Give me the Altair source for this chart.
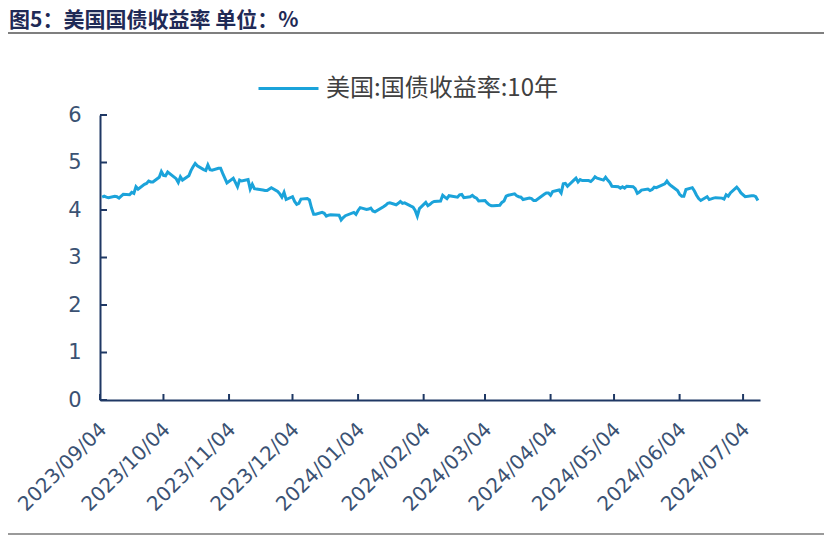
import altair as alt
import pandas as pd

TITLE = "图5：美国国债收益率  单位：%"
SERIES = "美国:国债收益率:10年"

DATES = [
    # 2023-09
    "2023-09-05", "2023-09-06", "2023-09-07", "2023-09-08", "2023-09-11", "2023-09-12",
    "2023-09-13", "2023-09-14", "2023-09-15", "2023-09-18", "2023-09-19", "2023-09-20",
    "2023-09-21", "2023-09-22", "2023-09-25", "2023-09-26", "2023-09-27", "2023-09-28",
    "2023-09-29",
    # 2023-10
    "2023-10-02", "2023-10-03", "2023-10-04", "2023-10-05", "2023-10-06", "2023-10-10",
    "2023-10-11", "2023-10-12", "2023-10-13", "2023-10-16", "2023-10-17", "2023-10-18",
    "2023-10-19", "2023-10-20", "2023-10-23", "2023-10-24", "2023-10-25", "2023-10-26",
    "2023-10-27", "2023-10-30", "2023-10-31",
    # 2023-11
    "2023-11-01", "2023-11-02", "2023-11-03", "2023-11-06", "2023-11-07", "2023-11-08",
    "2023-11-09", "2023-11-10", "2023-11-13", "2023-11-14", "2023-11-15", "2023-11-16",
    "2023-11-17", "2023-11-20", "2023-11-21", "2023-11-22", "2023-11-24", "2023-11-27",
    "2023-11-28", "2023-11-29", "2023-11-30",
    # 2023-12
    "2023-12-01", "2023-12-04", "2023-12-05", "2023-12-06", "2023-12-07", "2023-12-08",
    "2023-12-11", "2023-12-12", "2023-12-13", "2023-12-14", "2023-12-15", "2023-12-18",
    "2023-12-19", "2023-12-20", "2023-12-21", "2023-12-22", "2023-12-26", "2023-12-27",
    "2023-12-28", "2023-12-29",
    # 2024-01
    "2024-01-02", "2024-01-03", "2024-01-04", "2024-01-05", "2024-01-08", "2024-01-09",
    "2024-01-10", "2024-01-11", "2024-01-12", "2024-01-16", "2024-01-17", "2024-01-18",
    "2024-01-19", "2024-01-22", "2024-01-23", "2024-01-24", "2024-01-25", "2024-01-26",
    "2024-01-29", "2024-01-30", "2024-01-31",
    # 2024-02
    "2024-02-01", "2024-02-02", "2024-02-05", "2024-02-06", "2024-02-07", "2024-02-08",
    "2024-02-09", "2024-02-12", "2024-02-13", "2024-02-14", "2024-02-15", "2024-02-16",
    "2024-02-20", "2024-02-21", "2024-02-22", "2024-02-23", "2024-02-26", "2024-02-27",
    "2024-02-28", "2024-02-29",
    # 2024-03
    "2024-03-01", "2024-03-04", "2024-03-05", "2024-03-06", "2024-03-07", "2024-03-08",
    "2024-03-11", "2024-03-12", "2024-03-13", "2024-03-14", "2024-03-15", "2024-03-18",
    "2024-03-19", "2024-03-20", "2024-03-21", "2024-03-22", "2024-03-25", "2024-03-26",
    "2024-03-27", "2024-03-28",
    # 2024-04
    "2024-04-01", "2024-04-02", "2024-04-03", "2024-04-04", "2024-04-05", "2024-04-08",
    "2024-04-09", "2024-04-10", "2024-04-11", "2024-04-12", "2024-04-15", "2024-04-16",
    "2024-04-17", "2024-04-18", "2024-04-19", "2024-04-22", "2024-04-23", "2024-04-24",
    "2024-04-25", "2024-04-26", "2024-04-29", "2024-04-30",
    # 2024-05
    "2024-05-01", "2024-05-02", "2024-05-03", "2024-05-06", "2024-05-07", "2024-05-08",
    "2024-05-09", "2024-05-10", "2024-05-13", "2024-05-14", "2024-05-15", "2024-05-16",
    "2024-05-17", "2024-05-20", "2024-05-21", "2024-05-22", "2024-05-23", "2024-05-24",
    "2024-05-28", "2024-05-29", "2024-05-30", "2024-05-31",
    # 2024-06
    "2024-06-03", "2024-06-04", "2024-06-05", "2024-06-06", "2024-06-07", "2024-06-10",
    "2024-06-11", "2024-06-12", "2024-06-13", "2024-06-14", "2024-06-17", "2024-06-18",
    "2024-06-20", "2024-06-21", "2024-06-24", "2024-06-25", "2024-06-26", "2024-06-27",
    "2024-06-28",
    # 2024-07
    "2024-07-01", "2024-07-02", "2024-07-03", "2024-07-05", "2024-07-08", "2024-07-09",
    "2024-07-10", "2024-07-11",
]

YIELDS = [
    # 2023-09
    4.27, 4.29, 4.27, 4.26, 4.29, 4.28, 4.25, 4.29, 4.33, 4.32, 4.37, 4.35,
    4.49, 4.44, 4.54, 4.56, 4.61, 4.59, 4.59,
    # 2023-10
    4.69, 4.81, 4.73, 4.72, 4.80, 4.66, 4.58, 4.70, 4.63, 4.72, 4.83, 4.91,
    4.98, 4.93, 4.85, 4.83, 4.95, 4.85, 4.84, 4.88, 4.88,
    # 2023-11
    4.77, 4.67, 4.57, 4.67, 4.58, 4.49, 4.63, 4.61, 4.64, 4.44, 4.54, 4.45,
    4.44, 4.42, 4.41, 4.41, 4.47, 4.39, 4.34, 4.27, 4.37,
    # 2023-12
    4.22, 4.28, 4.18, 4.12, 4.14, 4.23, 4.24, 4.21, 4.04, 3.91, 3.91, 3.95,
    3.93, 3.87, 3.89, 3.90, 3.89, 3.79, 3.84, 3.88,
    # 2024-01
    3.95, 3.91, 3.99, 4.05, 4.01, 4.02, 4.04, 3.98, 3.96, 4.07, 4.10, 4.14,
    4.15, 4.11, 4.14, 4.18, 4.14, 4.15, 4.08, 4.06, 3.99,
    # 2024-02
    3.87, 4.03, 4.16, 4.09, 4.12, 4.16, 4.18, 4.19, 4.31, 4.27, 4.24, 4.30,
    4.27, 4.32, 4.33, 4.26, 4.28, 4.31, 4.27, 4.25,
    # 2024-03
    4.19, 4.20, 4.15, 4.11, 4.09, 4.09, 4.10, 4.16, 4.19, 4.29, 4.31, 4.34,
    4.30, 4.28, 4.27, 4.22, 4.25, 4.24, 4.20, 4.20,
    # 2024-04
    4.33, 4.36, 4.36, 4.31, 4.39, 4.42, 4.36, 4.55, 4.56, 4.50, 4.63, 4.67,
    4.59, 4.64, 4.62, 4.62, 4.60, 4.64, 4.70, 4.67, 4.63, 4.69,
    # 2024-05
    4.63, 4.58, 4.50, 4.49, 4.46, 4.49, 4.46, 4.50, 4.49, 4.45, 4.35, 4.38,
    4.42, 4.44, 4.41, 4.43, 4.48, 4.47, 4.55, 4.61, 4.55, 4.51,
    # 2024-06
    4.41, 4.33, 4.29, 4.29, 4.43, 4.47, 4.40, 4.31, 4.24, 4.20, 4.28, 4.22,
    4.25, 4.26, 4.25, 4.23, 4.32, 4.29, 4.36,
    # 2024-07
    4.48, 4.43, 4.36, 4.28, 4.30, 4.30, 4.28, 4.20,
]

TICK_DATES = [
    "2023-09-04", "2023-10-04", "2023-11-04", "2023-12-04", "2024-01-04", "2024-02-04",
    "2024-03-04", "2024-04-04", "2024-05-04", "2024-06-04", "2024-07-04",
]
Y_TICKS = [0, 1, 2, 3, 4, 5, 6]

W, H = 660, 285
LINE_BLUE = "#1ba3da"
AXIS_NAVY = "#1f3864"
LABEL_COLOR = "#3b5273"
TITLE_COLOR = "#1f2a56"
CJK = "Noto Sans CJK SC"
NUM_FONT = "DejaVu Sans"


def _dt(s: str) -> alt.DateTime:
    y, m, d = (int(p) for p in s.split("-"))
    return alt.DateTime(year=y, month=m, date=d)


x_scale = alt.Scale(domain=[_dt("2023-09-04"), _dt("2024-07-12")])
y_scale = alt.Scale(domain=[0, 6], nice=False)

df = pd.DataFrame({"date": DATES, "value": YIELDS, "series": SERIES})
ticks_x = pd.DataFrame({"date": TICK_DATES})
ticks_y = pd.DataFrame({"value": Y_TICKS})

line = (
    alt.Chart(df)
    .mark_line(strokeWidth=3, interpolate="linear")
    .encode(
        x=alt.X(
            "date:T",
            scale=x_scale,
            title=None,
            axis=alt.Axis(
                values=[_dt(s) for s in TICK_DATES],
                format="%Y/%m/%d",
                labelAngle=315,
                labelAlign="right",
                labelBaseline="middle",
                labelPadding=26,
                labelOffset=3,
                labelFontSize=20,
                labelFont=NUM_FONT,
                labelColor=LABEL_COLOR,
                labelOverlap=False,
                labelFlush=False,
                ticks=False,
                grid=False,
                domainColor=AXIS_NAVY,
                domainWidth=2,
            ),
        ),
        y=alt.Y(
            "value:Q",
            scale=y_scale,
            title=None,
            axis=alt.Axis(
                values=Y_TICKS,
                labelPadding=19,
                labelFontSize=21,
                labelFont=NUM_FONT,
                labelColor=LABEL_COLOR,
                ticks=False,
                grid=False,
                domainColor=AXIS_NAVY,
                domainWidth=2,
            ),
        ),
        color=alt.Color(
            "series:N",
            scale=alt.Scale(range=[LINE_BLUE]),
            legend=alt.Legend(
                title=None,
                orient="none",
                legendX=157,
                legendY=-58,
                symbolType="stroke",
                symbolSize=3600,
                symbolStrokeWidth=3,
                labelFont=CJK,
                labelFontSize=24,
                labelColor="#404040",
                labelOffset=6,
                labelLimit=400,
            ),
        ),
    )
)

# inward-pointing tick marks on both axes
x_ticks = (
    alt.Chart(ticks_x)
    .mark_rule(color=AXIS_NAVY, strokeWidth=2)
    .encode(x=alt.X("date:T", scale=x_scale), y=alt.value(H), y2=alt.value(H - 6))
)
y_ticks = (
    alt.Chart(ticks_y)
    .mark_rule(color=AXIS_NAVY, strokeWidth=2)
    .encode(y=alt.Y("value:Q", scale=y_scale), x=alt.value(0), x2=alt.value(7))
)

title = (
    alt.Chart(pd.DataFrame({"t": [TITLE]}))
    .mark_text(align="left", baseline="middle", font=CJK, fontSize=21, fontWeight="bold", color=TITLE_COLOR)
    .encode(text="t:N", x=alt.value(-91), y=alt.value(-94))
)
top_line = (
    alt.Chart(pd.DataFrame({"k": [0]}))
    .mark_rule(color="#7f7f7f", strokeWidth=2)
    .encode(x=alt.value(-92), x2=alt.value(724), y=alt.value(-82))
)
bottom_line = (
    alt.Chart(pd.DataFrame({"k": [0]}))
    .mark_rule(color="#9a9a9a", strokeWidth=2)
    .encode(x=alt.value(-92), x2=alt.value(724), y=alt.value(419))
)

chart = (
    alt.layer(line, x_ticks, y_ticks, title, top_line, bottom_line)
    .properties(
        width=W,
        height=H,
        autosize=alt.AutoSizeParams(type="none"),
        padding={"left": 92, "top": 107, "right": 64, "bottom": 135},
        background="white",
    )
    .configure_view(stroke=None)
)

chart.save("out.html", embed_options={"renderer": "svg", "actions": False})
